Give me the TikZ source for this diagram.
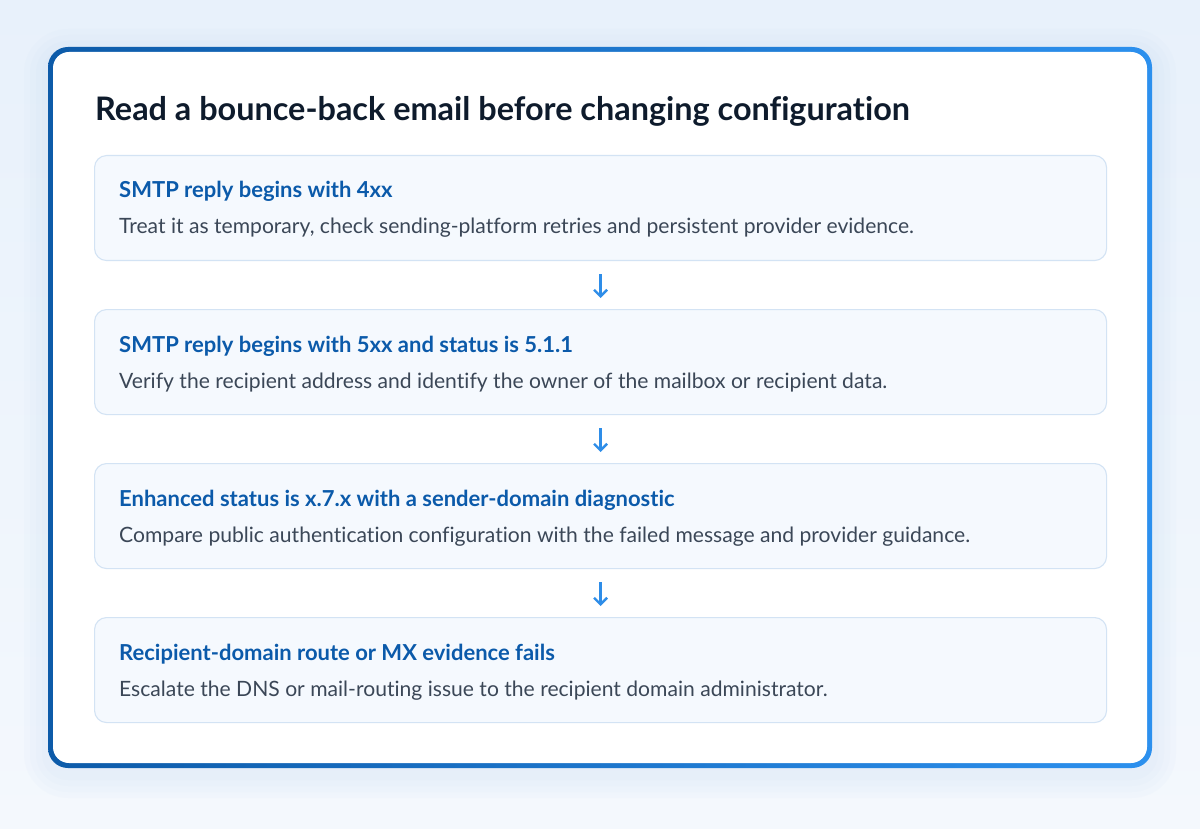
\documentclass[tikz,border=0pt]{standalone}
\usepackage{fontspec}
\setmainfont{Lato}[Ligatures={NoCommon}]
\usetikzlibrary{arrows.meta}
\definecolor{bgA}{HTML}{E8F1FB}
\definecolor{bgB}{HTML}{F4F8FD}
\definecolor{borderL}{HTML}{0D5BA9}
\definecolor{borderR}{HTML}{2C90EE}
\definecolor{boxfill}{HTML}{F5F9FE}
\definecolor{boxline}{HTML}{D3E3F4}
\definecolor{headc}{HTML}{0B5AAA}
\definecolor{bodyc}{HTML}{3B4757}
\definecolor{titlec}{HTML}{0E1B2C}
\definecolor{arrowc}{HTML}{2E8DE8}
\definecolor{haloc}{HTML}{C9DDF3}
\tikzset{
  x=1pt, y=1pt,
  stepbox/.style={draw=boxline, line width=1.1pt, fill=boxfill, rounded corners=12pt,
    minimum width=1012pt, minimum height=105pt, anchor=north west, inner sep=0pt},
  headtxt/.style={anchor=base west, inner sep=0pt, text=headc, font=\fontsize{22}{26}\selectfont\bfseries},
  bodytxt/.style={anchor=base west, inner sep=0pt, text=bodyc, font=\fontsize{21.1}{25}\selectfont},
  titletxt/.style={anchor=base west, inner sep=0pt, text=titlec, font=\fontsize{32.4}{38}\selectfont\bfseries},
  flow/.style={draw=arrowc, line width=2.4pt, -{Straight Barb[length=6.5pt,width=13pt,line width=2.4pt]}}
}
\begin{document}
\begin{tikzpicture}
\useasboundingbox (0,0) rectangle (1200,-829);
\shade[top color=bgA, bottom color=bgB] (0,0) rectangle (1200,-829);
% soft halo
\foreach \d in {24,18,12,6}{
  \fill[haloc, opacity=0.08, rounded corners=20pt+\d pt] (48-\d,-47+\d-6) rectangle (1152+\d,-768-\d-6);
}
% card
\shade[left color=borderL, right color=borderR, rounded corners=20pt] (48,-47) rectangle (1152,-768);
\fill[white, rounded corners=16pt] (53,-52) rectangle (1147,-763);
\node[titletxt] (title) at (95,-121) {Read a bounce-back email before changing configuration};
% boxes
\node[stepbox] (b1) at (94,-155) {};
\node[stepbox] (b2) at (94,-309) {};
\node[stepbox] (b3) at (94,-463) {};
\node[stepbox] (b4) at (94,-617) {};
\node[headtxt] (h1) at (119,-198) {SMTP reply begins with 4xx};
\node[bodytxt] (t1) at (119,-234) {Treat it as temporary, check sending-platform retries and persistent provider evidence.};
\node[headtxt] (h2) at (119,-352) {SMTP reply begins with 5xx and status is 5.1.1};
\node[bodytxt] (t2) at (119,-388) {Verify the recipient address and identify the owner of the mailbox or recipient data.};
\node[headtxt] (h3) at (119,-506) {Enhanced status is x.7.x with a sender-domain diagnostic};
\node[bodytxt] (t3) at (119,-542) {Compare public authentication configuration with the failed message and provider guidance.};
\node[headtxt] (h4) at (119,-660) {Recipient-domain route or MX evidence fails};
\node[bodytxt] (t4) at (119,-696) {Escalate the DNS or mail-routing issue to the recipient domain administrator.};
% arrows
\draw[flow] ([yshift=-13pt]b1.south) -- ([yshift=11pt]b2.north);
\draw[flow] ([yshift=-13pt]b2.south) -- ([yshift=11pt]b3.north);
\draw[flow] ([yshift=-13pt]b3.south) -- ([yshift=11pt]b4.north);
\end{tikzpicture}
\end{document}
